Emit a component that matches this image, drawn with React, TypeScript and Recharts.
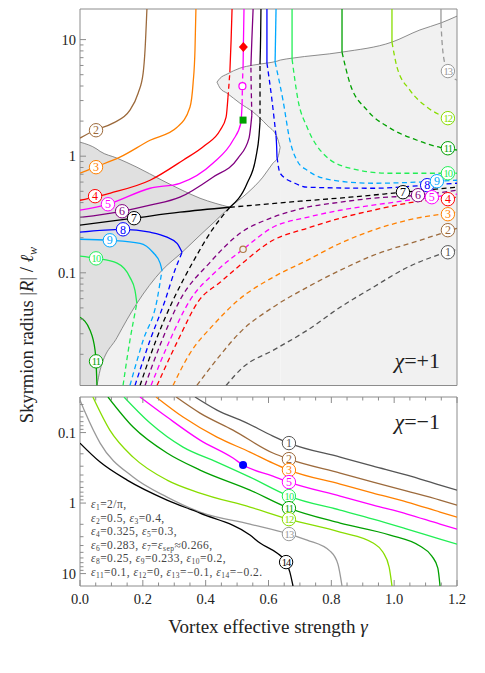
import React from "react";
import {
  ComposedChart,
  Line,
  Area,
  Scatter,
  XAxis,
  YAxis,
  ReferenceArea,
} from "recharts";

type Pt = [number, number];
type Band = [number, number, number]; // [gamma, low, high]
type Lbl = [number, number, number]; // [gamma, radius, curve no.]

// ── Look ─────────────────────────────────────────────────────
const SERIF = '"Liberation Serif", "Times New Roman", Times, "DejaVu Serif", "Noto Serif", serif';
const FRAME = "#8c8c8c";
const TEXT = "#222222";
const EDGE = "#707070";
const DARK_FILL = "#e0e0e0";
const LIGHT_FILL = "#f1f1f1";

const CURVE_COLORS: Record<number, string> = {
  1: "#555555",
  2: "#9c6a3c",
  3: "#ff8000",
  4: "#ff0000",
  5: "#ff00ff",
  6: "#800080",
  7: "#000000",
  8: "#0000ff",
  9: "#00a8ff",
  10: "#22ee55",
  11: "#00a000",
  12: "#88dd00",
  13: "#999999",
  14: "#000000",
};

// ── Layout ───────────────────────────────────────────────────
const W = 485;
const TOP_H = 390;
const BOT_H = 283;
const BOT_XAXIS_H = 87;
const BOT_MARGIN_TOP = 7;
const BOT_PLOT_H = BOT_H - BOT_XAXIS_H - BOT_MARGIN_TOP;

// ── Axes ─────────────────────────────────────────────────────
const X_DOMAIN: [number, number] = [0, 1.2];
const TOP_Y: [number, number] = [0.0108, 18.3];
const BOT_Y: [number, number] = [0.0313, 15];

const X_TICKS = [
  0, 0.05, 0.1, 0.15, 0.2, 0.25, 0.3, 0.35, 0.4, 0.45, 0.5, 0.55, 0.6, 0.65,
  0.7, 0.75, 0.8, 0.85, 0.9, 0.95, 1, 1.05, 1.1, 1.15, 1.2,
];
const TOP_Y_TICKS = [
  0.02, 0.03, 0.04, 0.05, 0.06, 0.07, 0.08, 0.09, 0.1, 0.2, 0.3, 0.4, 0.5,
  0.6, 0.7, 0.8, 0.9, 1, 2, 3, 4, 5, 6, 7, 8, 9, 10,
];
const BOT_Y_TICKS = [
  0.04, 0.05, 0.06, 0.07, 0.08, 0.09, 0.1, 0.2, 0.3, 0.4, 0.5, 0.6, 0.7, 0.8,
  0.9, 1, 2, 3, 4, 5, 6, 7, 8, 9, 10,
];

// ── χ = +1 : shaded regions ──────────────────────────────────
const darkBand: Band[] = [
  [0, 0.0108, 1.32],
  [0.054, 0.0108, 1.15],
  [0.064, 0.0146, 1.1],
  [0.118, 0.0279, 0.962],
  [0.181, 0.0547, 0.805],
  [0.261, 0.105, 0.622],
  [0.325, 0.15, 0.511],
  [0.382, 0.21, 0.436],
  [0.43, 0.277, 0.395],
  [0.477, 0.365, 0.365],
];
const lightLowerBand: Band[] = [
  [0.054, 0.0108, 0.0108],
  [0.064, 0.0108, 0.0146],
  [0.118, 0.0108, 0.0279],
  [0.181, 0.0108, 0.0547],
  [0.261, 0.0108, 0.105],
  [0.325, 0.0108, 0.15],
  [0.382, 0.0108, 0.21],
  [0.43, 0.0108, 0.277],
  [0.477, 0.0108, 0.365],
  [0.532, 0.0108, 0.481],
  [0.582, 0.0108, 0.661],
  [0.614, 0.0108, 0.871],
  [0.63, 0.0108, 0.981],
  [0.637, 0.0108, 1.19],
];
const lightUpperBand: Band[] = [
  [0.436, 4.32, 4.32],
  [0.446, 3.83, 4.67],
  [0.468, 3.47, 5.06],
  [0.509, 2.85, 5.69],
  [0.551, 2.39, 6.04],
  [0.595, 1.85, 6.29],
  [0.627, 1.46, 6.53],
  [0.637, 1.19, 6.67],
  [0.638, 0.0108, 6.68],
  [0.675, 0.0108, 6.93],
  [0.834, 0.0108, 7.81],
  [0.993, 0.0108, 9.52],
  [1.082, 0.0108, 12.1],
  [1.149, 0.0108, 13.9],
  [1.2, 0.0108, 15.9],
];

// ── χ = +1 : curves ──────────────────────────────────────────
const c1Dash: Pt[] = [[0.465, 0.0108], [0.519, 0.0155], [0.614, 0.0216], [0.723, 0.0321], [0.828, 0.0506], [0.933, 0.0751], [1.041, 0.111], [1.136, 0.141], [1.2, 0.159]];
const c2Solid: Pt[] = [[0, 1.43], [0.048, 1.67], [0.105, 1.92], [0.159, 2.48], [0.185, 3.47], [0.201, 5.16], [0.207, 8.13], [0.213, 18.3]];
const c2Dash: Pt[] = [[0.372, 0.0108], [0.446, 0.0196], [0.509, 0.0308], [0.614, 0.0506], [0.723, 0.0751], [0.828, 0.105], [0.933, 0.141], [1.082, 0.19], [1.2, 0.241]];
const c3Solid: Pt[] = [[0, 0.714], [0.048, 0.805], [0.127, 0.981], [0.223, 1.37], [0.309, 1.77], [0.35, 2.63], [0.36, 4.23], [0.366, 8.13], [0.369, 18.3]];
const c3Dash: Pt[] = [[0.296, 0.0108], [0.35, 0.0204], [0.423, 0.0354], [0.503, 0.0581], [0.614, 0.0914], [0.723, 0.128], [0.828, 0.179], [0.933, 0.232], [1.041, 0.282], [1.2, 0.331]];
const c4Low: Pt[] = [[0, 0.419], [0.048, 0.445], [0.095, 0.481], [0.223, 0.622], [0.328, 0.924], [0.398, 1.24], [0.446, 1.67], [0.465, 2.16], [0.471, 3.21]];
const c4Bulge: Pt[] = [[0.471, 3.21], [0.474, 4.07], [0.477, 5.26]];
const c4Top: Pt[] = [[0.477, 5.26], [0.481, 9.9], [0.484, 18.3]];
const c4Dash: Pt[] = [[0.245, 0.0108], [0.312, 0.0264], [0.379, 0.0581], [0.446, 0.0828], [0.509, 0.116], [0.614, 0.19], [0.723, 0.241], [0.828, 0.294], [0.933, 0.344], [1.041, 0.395], [1.2, 0.445]];
const c5Low: Pt[] = [[0, 0.344], [0.089, 0.387], [0.223, 0.531], [0.318, 0.586], [0.423, 0.871], [0.487, 1.37], [0.512, 1.92], [0.516, 2.8]];
const c5Bulge: Pt[] = [[0.516, 2.8], [0.517, 3.99], [0.519, 5.69]];
const c5Top: Pt[] = [[0.519, 5.69], [0.52, 8.63], [0.522, 18.3]];
const c5Dash: Pt[] = [[0.226, 0.0108], [0.286, 0.0264], [0.35, 0.0581], [0.43, 0.101], [0.519, 0.159], [0.614, 0.246], [0.723, 0.299], [0.828, 0.344], [0.933, 0.38], [1.12, 0.445], [1.2, 0.472]];
const c6Low: Pt[] = [[0, 0.299], [0.134, 0.337], [0.223, 0.38], [0.318, 0.445], [0.423, 0.661], [0.503, 0.962], [0.538, 1.43], [0.547, 2.25]];
const c6Bulge: Pt[] = [[0.547, 2.25], [0.545, 3.69], [0.544, 5.93]];
const c6Top: Pt[] = [[0.544, 5.93], [0.547, 9.9], [0.551, 18.3]];
const c6Dash: Pt[] = [[0.207, 0.0108], [0.261, 0.0264], [0.318, 0.0581], [0.414, 0.123], [0.509, 0.218], [0.614, 0.299], [0.723, 0.365], [0.828, 0.403], [0.933, 0.436], [1.076, 0.463], [1.2, 0.511]];
const c7Left: Pt[] = [[0, 0.256], [0.172, 0.294], [0.318, 0.331], [0.477, 0.365]];
const c7Wedge: Pt[] = [[0.477, 0.365], [0.532, 0.586], [0.56, 0.981], [0.57, 1.51], [0.573, 1.96]];
const c7Bulge: Pt[] = [[0.573, 1.96], [0.573, 3.34], [0.573, 6.16]];
const c7Top: Pt[] = [[0.573, 6.16], [0.575, 10.9], [0.576, 18.3]];
const c7Right: Pt[] = [[0.477, 0.365], [0.7, 0.411], [0.859, 0.445], [1.028, 0.491], [1.2, 0.542]];
const c7Down: Pt[] = [[0.191, 0.0108], [0.242, 0.0264], [0.296, 0.0581], [0.328, 0.0863], [0.366, 0.133], [0.42, 0.232], [0.477, 0.365]];
const c8Left: Pt[] = [[0, 0.223], [0.137, 0.236], [0.223, 0.223], [0.277, 0.202], [0.309, 0.179], [0.325, 0.15]];
const c8Down: Pt[] = [[0.175, 0.0108], [0.223, 0.0264], [0.271, 0.0581], [0.302, 0.105], [0.325, 0.15]];
const c8Top: Pt[] = [[0.595, 6.29], [0.595, 18.3]];
const c8Bulge: Pt[] = [[0.595, 6.29], [0.611, 3.03], [0.624, 1.49]];
const c8Wedge: Pt[] = [[0.624, 1.49], [0.626, 1.2], [0.627, 0.981]];
const c8Right: Pt[] = [[0.627, 0.981], [0.637, 0.714], [0.684, 0.586], [0.723, 0.542], [0.933, 0.531], [1.105, 0.564], [1.2, 0.586]];
const c9Left: Pt[] = [[0, 0.194], [0.095, 0.19], [0.191, 0.179], [0.232, 0.15], [0.255, 0.121], [0.261, 0.105]];
const c9Down: Pt[] = [[0.159, 0.0108], [0.201, 0.0264], [0.245, 0.0581], [0.261, 0.105]];
const c9Top: Pt[] = [[0.621, 6.41], [0.624, 18.3]];
const c9Right: Pt[] = [[0.621, 6.41], [0.646, 3.03], [0.668, 1.37], [0.694, 0.888], [0.723, 0.758], [0.805, 0.622], [0.933, 0.586], [1.136, 0.61], [1.2, 0.622]];
const c10Left: Pt[] = [[0, 0.139], [0.051, 0.133], [0.118, 0.121], [0.159, 0.0914], [0.175, 0.0708], [0.181, 0.0547]];
const c10Down: Pt[] = [[0.137, 0.0108], [0.159, 0.0264], [0.181, 0.0547]];
const c10Top: Pt[] = [[0.675, 6.8], [0.675, 18.3]];
const c10Right: Pt[] = [[0.675, 6.8], [0.694, 3.03], [0.723, 1.77], [0.773, 1.06], [0.859, 0.789], [0.987, 0.714], [1.171, 0.714], [1.2, 0.714]];
const c11Left: Pt[] = [[0, 0.0415], [0.032, 0.0321], [0.048, 0.0216], [0.051, 0.0174], [0.054, 0.0108]];
const c11Top: Pt[] = [[0.834, 7.81], [0.834, 18.3]];
const c11Right: Pt[] = [[0.834, 7.81], [0.859, 4.23], [0.914, 2.48], [0.987, 1.74], [1.073, 1.37], [1.146, 1.19], [1.2, 1.13]];
const c12Top: Pt[] = [[0.993, 9.52], [0.993, 18.3]];
const c12Right: Pt[] = [[0.993, 9.52], [1.009, 5.81], [1.05, 3.69], [1.105, 2.63], [1.171, 2.12], [1.2, 2.0]];
const c13Top: Pt[] = [[1.149, 13.9], [1.149, 18.3]];
const c13Right: Pt[] = [[1.149, 13.9], [1.152, 9.9], [1.159, 6.67], [1.171, 5.37], [1.2, 4.49]];

const TOP_LABELS: Lbl[] = [
  [0.051, 1.67, 2], [0.051, 0.805, 3], [0.048, 0.454, 4], [0.089, 0.387, 5],
  [0.134, 0.337, 6], [0.172, 0.294, 7], [0.137, 0.236, 8], [0.095, 0.19, 9],
  [0.051, 0.133, 10], [0.051, 0.0174, 11],
  [1.171, 5.37, 13], [1.171, 2.12, 12], [1.171, 1.17, 11], [1.105, 0.564, 8],
  [1.136, 0.61, 9], [1.171, 0.714, 10], [1.028, 0.491, 7], [1.076, 0.463, 6],
  [1.12, 0.445, 5], [1.171, 0.428, 4], [1.171, 0.318, 3], [1.171, 0.232, 2],
  [1.171, 0.15, 1],
];

const diamondPts: Pt[] = [[0.52, 8.63]];
const magentaRingPts: Pt[] = [[0.517, 3.99]];
const squarePts: Pt[] = [[0.519, 2.04]];
const brownRingPts: Pt[] = [[0.519, 0.159]];

// ── χ = −1 : curves ──────────────────────────────────────────
const b1: Pt[] = [[0.366, 0.0313], [0.436, 0.048], [0.525, 0.071], [0.614, 0.112], [0.665, 0.141], [0.828, 0.223], [0.933, 0.299], [1.041, 0.401], [1.146, 0.556], [1.2, 0.654]];
const b2: Pt[] = [[0.306, 0.0313], [0.382, 0.0529], [0.487, 0.0922], [0.614, 0.195], [0.665, 0.238], [0.828, 0.375], [0.933, 0.504], [1.041, 0.676], [1.146, 0.906], [1.2, 1.07]];
const b3: Pt[] = [[0.242, 0.0313], [0.328, 0.0603], [0.436, 0.116], [0.541, 0.189], [0.614, 0.271], [0.665, 0.34], [0.828, 0.538], [0.933, 0.721], [1.041, 0.968], [1.146, 1.34], [1.2, 1.58]];
const b5: Pt[] = [[0.191, 0.0313], [0.277, 0.0603], [0.382, 0.128], [0.487, 0.23], [0.519, 0.289], [0.614, 0.414], [0.665, 0.504], [0.828, 0.796], [0.933, 1.07], [1.041, 1.43], [1.146, 1.99], [1.2, 2.34]];
const b10: Pt[] = [[0.14, 0.0313], [0.223, 0.0733], [0.328, 0.161], [0.436, 0.262], [0.541, 0.428], [0.665, 0.796], [0.828, 1.26], [0.933, 1.69], [1.041, 2.34], [1.146, 3.24], [1.2, 3.82]];
const b11: Pt[] = [[0.089, 0.0313], [0.169, 0.0835], [0.277, 0.195], [0.382, 0.34], [0.541, 0.654], [0.665, 1.18], [0.828, 1.92], [0.987, 2.84], [1.082, 4.07], [1.12, 5.65], [1.139, 8.36], [1.146, 15]];
const b12: Pt[] = [[0.041, 0.0313], [0.095, 0.0922], [0.169, 0.223], [0.277, 0.472], [0.382, 0.721], [0.541, 1.14], [0.665, 1.69], [0.828, 2.58], [0.933, 3.69], [0.964, 4.95], [0.984, 8.09], [0.993, 15]];
const b13: Pt[] = [[0, 0.0346], [0.016, 0.0512], [0.064, 0.141], [0.169, 0.428], [0.277, 0.822], [0.382, 1.34], [0.541, 1.99], [0.665, 2.75], [0.723, 3.35], [0.796, 4.8], [0.821, 7.33], [0.834, 15]];
const b14: Pt[] = [[0, 0.141], [0.064, 0.262], [0.15, 0.472], [0.277, 0.906], [0.382, 1.39], [0.541, 2.84], [0.573, 3.69], [0.627, 5.12], [0.656, 6.87], [0.668, 9.52], [0.678, 15]];

const BOT_LABELS: Lbl[] = [
  [0.665, 0.141, 1], [0.665, 0.238, 2], [0.665, 0.34, 3], [0.665, 0.504, 5],
  [0.665, 0.796, 10], [0.665, 1.18, 11], [0.665, 1.69, 12], [0.665, 2.75, 13],
  [0.656, 6.87, 14],
];
const blueDotPts: Pt[] = [[0.519, 0.289]];

const NOTE_LINES: [string, string][][] = [
  [["1", "=2/π,"]],
  [["2", "=0.5, "], ["3", "=0.4,"]],
  [["4", "=0.325, "], ["5", "=0.3,"]],
  [["6", "=0.283, "], ["7", "="], ["sep", "≈0.266,"]],
  [["8", "=0.25, "], ["9", "=0.233, "], ["10", "=0.2,"]],
  [["11", "=0.1, "], ["12", "=0, "], ["13", "=−0.1, "], ["14", "=−0.2."]],
];

// ── Segment tables ───────────────────────────────────────────
interface Seg {
  id: number;
  pts: Pt[];
  dashed?: boolean;
}

const TOP_SEGMENTS: Seg[] = [
  { id: 1, pts: c1Dash, dashed: true },
  { id: 2, pts: c2Dash, dashed: true },
  { id: 3, pts: c3Dash, dashed: true },
  { id: 4, pts: c4Dash, dashed: true },
  { id: 5, pts: c5Dash, dashed: true },
  { id: 6, pts: c6Dash, dashed: true },
  { id: 7, pts: c7Down, dashed: true },
  { id: 7, pts: c7Right, dashed: true },
  { id: 8, pts: c8Down, dashed: true },
  { id: 9, pts: c9Down, dashed: true },
  { id: 10, pts: c10Down, dashed: true },
  { id: 4, pts: c4Bulge, dashed: true },
  { id: 5, pts: c5Bulge, dashed: true },
  { id: 6, pts: c6Bulge, dashed: true },
  { id: 7, pts: c7Bulge, dashed: true },
  { id: 8, pts: c8Bulge, dashed: true },
  { id: 8, pts: c8Right, dashed: true },
  { id: 9, pts: c9Right, dashed: true },
  { id: 10, pts: c10Right, dashed: true },
  { id: 11, pts: c11Right, dashed: true },
  { id: 12, pts: c12Right, dashed: true },
  { id: 13, pts: c13Right, dashed: true },
  { id: 2, pts: c2Solid },
  { id: 3, pts: c3Solid },
  { id: 4, pts: c4Low },
  { id: 4, pts: c4Top },
  { id: 5, pts: c5Low },
  { id: 5, pts: c5Top },
  { id: 6, pts: c6Low },
  { id: 6, pts: c6Top },
  { id: 7, pts: c7Left },
  { id: 7, pts: c7Wedge },
  { id: 7, pts: c7Top },
  { id: 8, pts: c8Left },
  { id: 8, pts: c8Top },
  { id: 8, pts: c8Wedge },
  { id: 9, pts: c9Left },
  { id: 9, pts: c9Top },
  { id: 10, pts: c10Left },
  { id: 10, pts: c10Top },
  { id: 11, pts: c11Left },
  { id: 11, pts: c11Top },
  { id: 12, pts: c12Top },
  { id: 13, pts: c13Top },
];

const BOT_SEGMENTS: Seg[] = [
  { id: 1, pts: b1 },
  { id: 2, pts: b2 },
  { id: 3, pts: b3 },
  { id: 5, pts: b5 },
  { id: 10, pts: b10 },
  { id: 11, pts: b11 },
  { id: 12, pts: b12 },
  { id: 13, pts: b13 },
  { id: 14, pts: b14 },
];

// ── Helpers ──────────────────────────────────────────────────
const rows = (pts: Pt[]) => pts.map(([x, y]) => ({ x, y }));
const bandRows = (b: Band[]) => b.map(([x, lo, hi]) => ({ x, r: [lo, hi] }));
const labelRows = (l: Lbl[]) => l.map(([x, y, n]) => ({ x, y, n }));

function curveOf(pts: Pt[]) {
  if (pts.length < 3) return "linear" as const;
  const inc = pts.every((p, i) => i === 0 || p[0] > pts[i - 1][0]);
  return inc ? ("monotone" as const) : ("basis" as const);
}

const isMajorX = (v: number) => Math.abs(v * 5 - Math.round(v * 5)) < 1e-6;
const isMajorY = (v: number) =>
  Math.abs(Math.log10(v) - Math.round(Math.log10(v))) < 1e-6;

const serifStyle = { fontFamily: SERIF };

// ── Ticks ────────────────────────────────────────────────────
// eslint-disable-next-line @typescript-eslint/no-explicit-any
function TopXTick(props: any) {
  const { x, y, payload } = props;
  const len = isMajorX(payload.value) ? 6 : 3.5;
  return <line x1={x} x2={x} y1={y} y2={y - len} stroke={FRAME} strokeWidth={1} />;
}

// eslint-disable-next-line @typescript-eslint/no-explicit-any
function BottomXTick(props: any) {
  const { x, y, payload } = props;
  const major = isMajorX(payload.value);
  const len = major ? 6 : 3.5;
  const top = y - BOT_PLOT_H;
  return (
    <g>
      <line x1={x} x2={x} y1={y} y2={y - len} stroke={FRAME} strokeWidth={1} />
      <line x1={x} x2={x} y1={top} y2={top + len} stroke={FRAME} strokeWidth={1} />
      {major && (
        <text x={x} y={y + 18} textAnchor="middle" fontSize={14.5} style={serifStyle} fill={TEXT}>
          {Number(payload.value).toFixed(1)}
        </text>
      )}
    </g>
  );
}

// eslint-disable-next-line @typescript-eslint/no-explicit-any
function YTick(props: any) {
  const { x, y, payload } = props;
  const major = isMajorY(payload.value);
  return (
    <g>
      <line x1={x} x2={x + (major ? 6 : 3.5)} y1={y} y2={y} stroke={FRAME} strokeWidth={1} />
      {major && (
        <text x={x - 4} y={y} dy="0.35em" textAnchor="end" fontSize={14.5} style={serifStyle} fill={TEXT}>
          {String(payload.value)}
        </text>
      )}
    </g>
  );
}

// ── Marker shapes ────────────────────────────────────────────
// eslint-disable-next-line @typescript-eslint/no-explicit-any
function CurveLabel(props: any) {
  const { cx, cy, payload } = props;
  const c = CURVE_COLORS[payload.n];
  const two = payload.n >= 10;
  return (
    <g>
      <circle cx={cx} cy={cy} r={6.7} fill="#fff" stroke={c} strokeWidth={1} />
      <text
        x={cx}
        y={cy}
        dy="0.35em"
        textAnchor="middle"
        fontSize={two ? 10.5 : 12}
        letterSpacing={two ? -0.8 : 0}
        style={serifStyle}
        fill={c}
      >
        {payload.n}
      </text>
    </g>
  );
}

// eslint-disable-next-line @typescript-eslint/no-explicit-any
const Diamond = ({ cx, cy }: any) => (
  <polygon points={`${cx},${cy - 5} ${cx + 4.5},${cy} ${cx},${cy + 5} ${cx - 4.5},${cy}`} fill="#ff0000" />
);
// eslint-disable-next-line @typescript-eslint/no-explicit-any
const MagentaRing = ({ cx, cy }: any) => (
  <circle cx={cx} cy={cy} r={3.5} fill="#fff" stroke="#ff00ff" strokeWidth={1.2} />
);
// eslint-disable-next-line @typescript-eslint/no-explicit-any
const GreenSquare = ({ cx, cy }: any) => (
  <rect x={cx - 3.5} y={cy - 3.5} width={7} height={7} fill="#00a000" />
);
// eslint-disable-next-line @typescript-eslint/no-explicit-any
const BrownRing = ({ cx, cy }: any) => (
  <circle cx={cx} cy={cy} r={3.2} fill="#f1f1f1" stroke="#b07a45" strokeWidth={1.2} />
);
// eslint-disable-next-line @typescript-eslint/no-explicit-any
const BlueDot = ({ cx, cy }: any) => <circle cx={cx} cy={cy} r={4} fill="#0000ff" />;

// ── Small render helpers ─────────────────────────────────────
function curveLine(s: Seg, key: string) {
  return (
    <Line
      key={key}
      data={rows(s.pts)}
      dataKey="y"
      type={curveOf(s.pts)}
      stroke={CURVE_COLORS[s.id]}
      strokeWidth={1.3}
      strokeDasharray={s.dashed ? "5 3.5" : undefined}
      dot={false}
      activeDot={false}
      isAnimationActive={false}
    />
  );
}

function edgeLine(pts: Pt[], key: string) {
  return (
    <Line
      key={key}
      data={rows(pts)}
      dataKey="y"
      type="monotone"
      stroke={EDGE}
      strokeWidth={0.8}
      dot={false}
      activeDot={false}
      isAnimationActive={false}
    />
  );
}

// ── Main component ───────────────────────────────────────────
export default function App() {
  const lowerEdge: Pt[] = lightLowerBand.map(([x, , hi]) => [x, hi]);
  const bulgeLowEdge: Pt[] = lightUpperBand.filter(([x]) => x <= 0.637).map(([x, lo]) => [x, lo]);
  const upperEdge: Pt[] = lightUpperBand.map(([x, , hi]) => [x, hi]);
  const darkEdge: Pt[] = darkBand.map(([x, , hi]) => [x, hi]);

  return (
    <div style={{ position: "absolute", left: 0, top: 0, width: W, height: TOP_H + BOT_H, background: "#fff", fontFamily: SERIF }}>
      {/* χ = +1 */}
      <div style={{ position: "absolute", left: 0, top: 0 }}>
        <ComposedChart width={W} height={TOP_H} margin={{ top: 9, right: 28, bottom: 4.5, left: 0 }}>
          <Area data={bandRows(darkBand)} dataKey="r" type="monotone" stroke="none" fill={DARK_FILL} fillOpacity={1} dot={false} activeDot={false} isAnimationActive={false} />
          <Area data={bandRows(lightLowerBand)} dataKey="r" type="monotone" stroke="none" fill={LIGHT_FILL} fillOpacity={1} dot={false} activeDot={false} isAnimationActive={false} />
          <Area data={bandRows(lightUpperBand)} dataKey="r" type="monotone" stroke="none" fill={LIGHT_FILL} fillOpacity={1} dot={false} activeDot={false} isAnimationActive={false} />

          {edgeLine(lowerEdge, "e1")}
          {edgeLine(bulgeLowEdge, "e2")}
          {edgeLine(upperEdge, "e3")}
          {edgeLine(darkEdge, "e4")}

          {TOP_SEGMENTS.map((s, i) => curveLine(s, `t${i}`))}

          <Scatter data={rows(diamondPts)} shape={Diamond} isAnimationActive={false} />
          <Scatter data={rows(magentaRingPts)} shape={MagentaRing} isAnimationActive={false} />
          <Scatter data={rows(squarePts)} shape={GreenSquare} isAnimationActive={false} />
          <Scatter data={rows(brownRingPts)} shape={BrownRing} isAnimationActive={false} />
          <Scatter data={labelRows(TOP_LABELS)} shape={CurveLabel} isAnimationActive={false} />

          <XAxis
            dataKey="x"
            type="number"
            domain={X_DOMAIN}
            ticks={X_TICKS}
            interval={0}
            allowDataOverflow
            height={0}
            axisLine={false}
            tickLine={false}
            tickSize={0}
            tickMargin={0}
            tick={TopXTick}
          />
          <YAxis
            dataKey="y"
            type="number"
            scale="log"
            domain={TOP_Y}
            ticks={TOP_Y_TICKS}
            interval={0}
            allowDataOverflow
            width={80}
            axisLine={false}
            tickLine={false}
            tickSize={0}
            tickMargin={0}
            tick={YTick}
          />
          <ReferenceArea x1={X_DOMAIN[0]} x2={X_DOMAIN[1]} y1={TOP_Y[0]} y2={TOP_Y[1]} fill="none" stroke={FRAME} strokeWidth={1} ifOverflow="visible" />
        </ComposedChart>
      </div>

      {/* χ = −1 */}
      <div style={{ position: "absolute", left: 0, top: TOP_H }}>
        <ComposedChart width={W} height={BOT_H} margin={{ top: BOT_MARGIN_TOP, right: 28, bottom: 0, left: 0 }}>
          {BOT_SEGMENTS.map((s, i) => curveLine(s, `b${i}`))}

          <Scatter data={rows(blueDotPts)} shape={BlueDot} isAnimationActive={false} />
          <Scatter data={labelRows(BOT_LABELS)} shape={CurveLabel} isAnimationActive={false} />

          <XAxis
            dataKey="x"
            type="number"
            domain={X_DOMAIN}
            ticks={X_TICKS}
            interval={0}
            allowDataOverflow
            height={BOT_XAXIS_H}
            axisLine={false}
            tickLine={false}
            tickSize={0}
            tickMargin={0}
            tick={BottomXTick}
          />
          <YAxis
            dataKey="y"
            type="number"
            scale="log"
            reversed
            domain={BOT_Y}
            ticks={BOT_Y_TICKS}
            interval={0}
            allowDataOverflow
            width={80}
            axisLine={false}
            tickLine={false}
            tickSize={0}
            tickMargin={0}
            tick={YTick}
          />
          <ReferenceArea x1={X_DOMAIN[0]} x2={X_DOMAIN[1]} y1={BOT_Y[0]} y2={BOT_Y[1]} fill="none" stroke={FRAME} strokeWidth={1} ifOverflow="visible" />
        </ComposedChart>
      </div>

      {/* titles and notes */}
      <svg
        width={W}
        height={TOP_H + BOT_H}
        style={{ position: "absolute", left: 0, top: 0, pointerEvents: "none", fontFamily: SERIF }}
      >
        <text transform="translate(33,335) rotate(-90)" textAnchor="middle" fontSize={18.5} fill={TEXT} style={serifStyle}>
          Skyrmion radius |<tspan fontStyle="italic">R</tspan>| / <tspan fontStyle="italic">ℓ</tspan>
          <tspan fontStyle="italic" fontSize={12} dy={4}>w</tspan>
        </text>
        <text x={268} y={633} textAnchor="middle" fontSize={19} fill={TEXT} style={serifStyle}>
          Vortex effective strength <tspan fontStyle="italic">γ</tspan>
        </text>

        <text x={440} y={368} textAnchor="end" fontSize={22} fill={TEXT} style={serifStyle}>
          <tspan fontStyle="italic">χ</tspan>=+1
        </text>
        <text x={440} y={429} textAnchor="end" fontSize={22} fill={TEXT} style={serifStyle}>
          <tspan fontStyle="italic">χ</tspan>=−1
        </text>

        {NOTE_LINES.map((line, i) => (
          <text
            key={i}
            x={91}
            y={508 + i * 13.5}
            fontSize={11.5}
            letterSpacing={0.45}
            fill="#444"
            style={{ whiteSpace: "pre", fontFamily: SERIF }}
          >
            {line.map(([sub, rest], j) => (
              <React.Fragment key={j}>
                <tspan fontStyle="italic">ε</tspan>
                <tspan fontSize={7.5} dy={2}>{sub}</tspan>
                <tspan dy={-2}>{rest}</tspan>
              </React.Fragment>
            ))}
          </text>
        ))}
      </svg>
    </div>
  );
}
